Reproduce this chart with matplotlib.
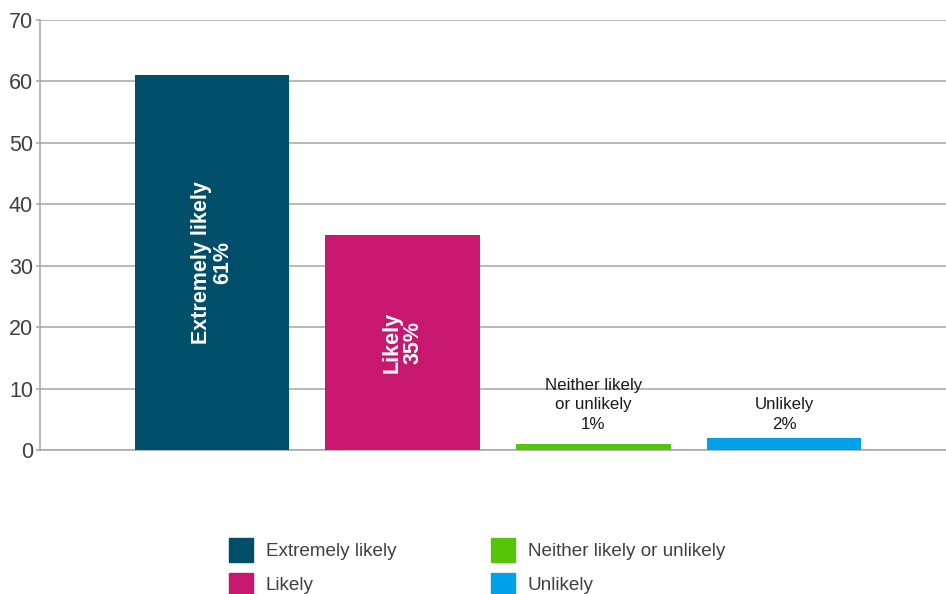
import matplotlib
matplotlib.use("Agg")
import matplotlib.pyplot as plt
from matplotlib.patches import Rectangle

plt.rcParams['font.family'] = ['Liberation Sans', 'DejaVu Sans']

categories = ["Extremely likely", "Likely", "Neither likely or unlikely", "Unlikely"]
bar_labels = ["Extremely likely", "Likely", "Neither likely\nor unlikely", "Unlikely"]
percent = [61, 35, 1, 2]
colors = ["#004F6A", "#C8176F", "#57C40A", "#00A0EA"]
y_ticks = [0, 10, 20, 30, 40, 50, 60, 70]

W, H = 946, 594
fig = plt.figure(figsize=(W / 100, H / 100), dpi=100)
ax = fig.add_axes([40 / W, (H - 450) / H, (W - 40) / W, 430 / H])

xs = list(range(len(categories)))
bars = ax.bar(xs, percent, width=0.81, color=colors, zorder=3)

ax.set_xlim(-0.902, 3.85)
ax.set_ylim(0, 70)
ax.set_yticks(y_ticks)
ax.set_xticks([])
ax.yaxis.grid(True, color="#A6A6A6", linewidth=1.1, zorder=0)
ax.tick_params(axis="y", labelsize=15.5, labelcolor="#404040", color="#A6A6A6",
               length=3, width=1.1, pad=2)
for side in ("top", "right"):
    ax.spines[side].set_visible(False)
for side in ("left", "bottom"):
    ax.spines[side].set_color("#A6A6A6")
    ax.spines[side].set_linewidth(1.1)

# big bars get their label rotated inside, small ones sit on a common line above
for x, v, lab in zip(xs, percent, bar_labels):
    txt = f"{lab}\n{v}%"
    if v > 10:
        ax.text(x, v / 2, txt, rotation=90, ha="center", va="center",
                color="white", fontsize=15.5, fontweight="bold",
                multialignment="center", linespacing=1.0, zorder=4)
    else:
        ax.text(x, 2.9, txt, ha="center", va="bottom", color="#1a1a1a",
                fontsize=12.2, multialignment="center", linespacing=1.4, zorder=4)

# legend: two columns of colour squares
col_x = [229, 491]
row_y = [550, 584.5]
for i, (cat, c) in enumerate(zip(categories, colors)):
    cx = col_x[i // 2]
    cy = row_y[i % 2]
    fig.add_artist(Rectangle((cx / W, (H - cy - 12) / H), 24 / W, 24 / H,
                             transform=fig.transFigure, color=c))
    fig.text((cx + 36.5) / W, (H - cy - 1.5) / H, cat, ha="left", va="center",
             fontsize=13.6, color="#404040")

fig.savefig("out.png", dpi=100)
